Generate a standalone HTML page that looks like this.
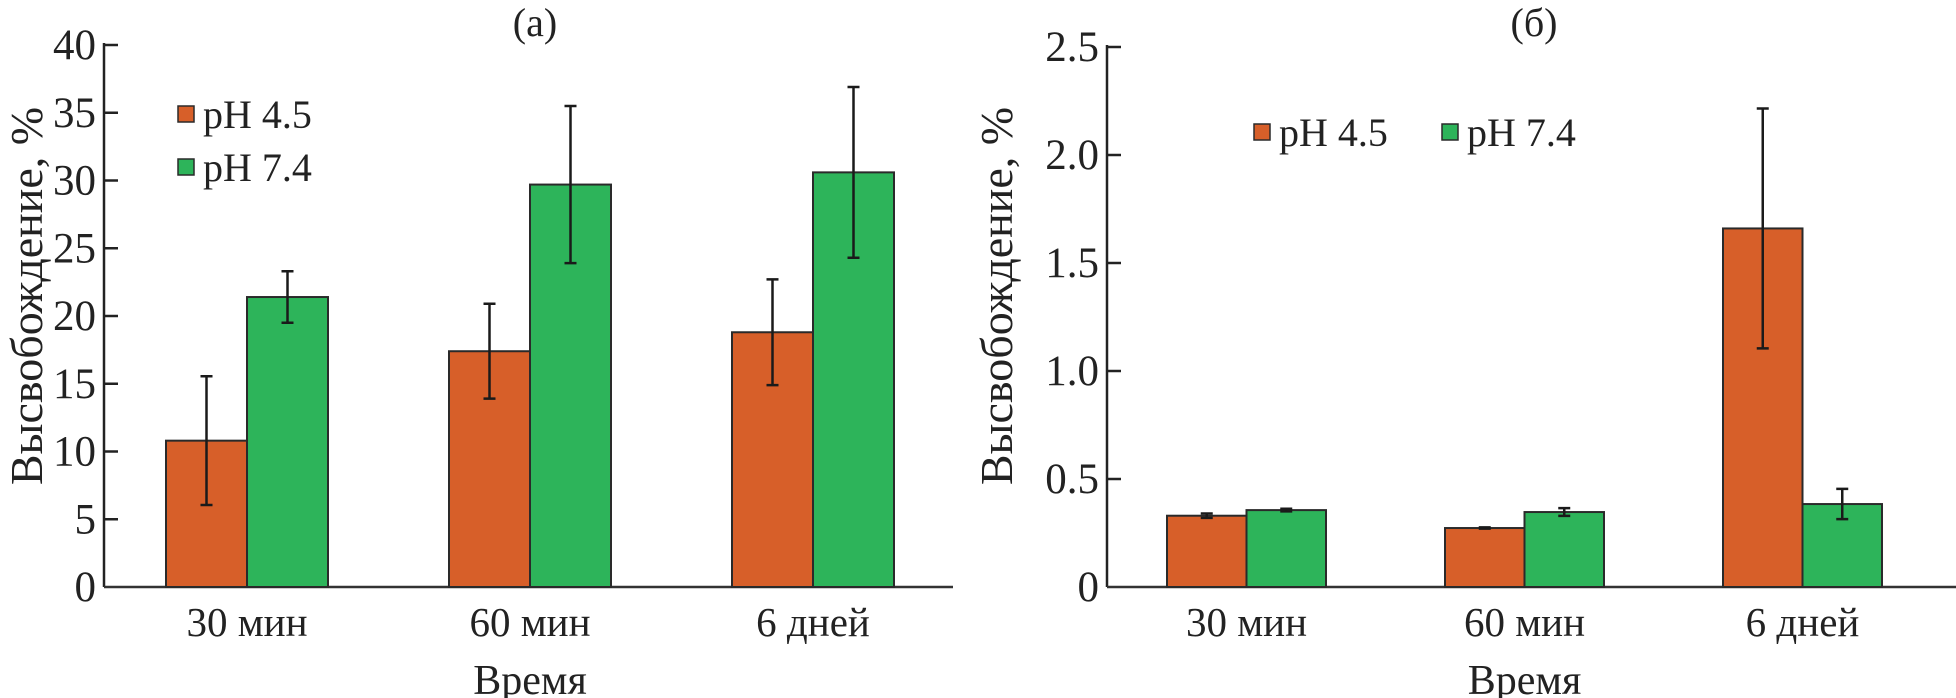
<!DOCTYPE html>
<html><head><meta charset="utf-8">
<style>
html,body{margin:0;padding:0;background:#fff;}
svg{display:block;font-family:"Liberation Serif","DejaVu Serif",serif;}
</style></head>
<body>
<svg id="chart" width="1956" height="698" viewBox="0 0 1956 698" xmlns="http://www.w3.org/2000/svg">
<g id="left"></g>
<g id="right"></g>
</svg>
<script>
const categories = ["30 мин", "60 мин", "6 дней"];
const leftPh45 = [10.8, 17.4, 18.8];
const leftPh45Err = [4.75, 3.5, 3.9];
const leftPh74 = [21.4, 29.7, 30.6];
const leftPh74Err = [1.9, 5.8, 6.3];
const leftTicks = [0, 5, 10, 15, 20, 25, 30, 35, 40];
const rightPh45 = [0.33, 0.273, 1.66];
const rightPh45Err = [0.01, 0.003, 0.555];
const rightPh74 = [0.356, 0.347, 0.384];
const rightPh74Err = [0.006, 0.018, 0.07];
const rightTicks = ["0", "0.5", "1.0", "1.5", "2.0", "2.5"];
const seriesNames = ["pH 4.5", "pH 7.4"];

const NS = "http://www.w3.org/2000/svg";
const ORANGE = "#d75f29", GREEN = "#2db45a";
function mk(parent, tag, attrs, text) {
  const e = document.createElementNS(NS, tag);
  for (const k in attrs) e.setAttribute(k, attrs[k]);
  if (text !== undefined) e.textContent = text;
  parent.appendChild(e);
  return e;
}

function panel(g, cfg) {
  const y = v => cfg.y0 - (v / cfg.ymax) * (cfg.y0 - cfg.yTop);
  const xGroup = i => cfg.firstBar + i * cfg.groupStep;
  let a = mk(g, "line", {x1: cfg.ax, y1: cfg.yTop - 2, x2: cfg.ax, y2: cfg.y0, stroke: "#222", "stroke-width": 2.5});
  
  
  a = mk(g, "line", {x1: cfg.ax, y1: cfg.y0, x2: cfg.axEnd, y2: cfg.y0, stroke: "#333", "stroke-width": 2.5});
  
  
  cfg.ticks.forEach(t => {
    const v = parseFloat(t);
    const ty = y(v);
    if (v > 0) {
      const tl = mk(g, "line", {x1: cfg.ax, y1: ty, x2: cfg.ax + 14, y2: ty, stroke: "#222", "stroke-width": 2.5});
      
      
    }
    const lb = mk(g, "text", {x: cfg.ax - 8, y: ty + 14, "text-anchor": "end", "font-size": 43, fill: "#222"}, String(t));
    
    
  });
  categories.forEach((c, i) => {
    const x0 = xGroup(i);
    [[cfg.s1, cfg.e1, ORANGE, 'bar-ph45'], [cfg.s2, cfg.e2, GREEN, 'bar-ph74']].forEach((s, k) => {
      const bx = x0 + k * cfg.bw;
      const top = y(s[0][i]);
      const r = mk(g, "rect", {x: bx, y: top, width: cfg.bw, height: cfg.y0 - top, fill: s[2], stroke: "#2a2a2a", "stroke-width": 2});
      
      
      const cx = bx + cfg.bw / 2;
      const hi = y(s[0][i] + s[1][i]), lo = y(s[0][i] - s[1][i]);
      const eb = mk(g, "path", {d: `M${cx},${hi}V${lo}M${cx-6},${hi}H${cx+6}M${cx-6},${lo}H${cx+6}`, stroke: "#1a1a1a", "stroke-width": 2.5, fill: "none"});
      
      
    });
    const xl = mk(g, "text", {x: x0 + cfg.bw, y: 636, "text-anchor": "middle", "font-size": 41, fill: "#222"}, c);
    
    
  });
  const xt = mk(g, "text", {x: xGroup(1) + cfg.bw, y: 694, "text-anchor": "middle", "font-size": 42, fill: "#222"}, "Время");
  
  
  const yt = mk(g, "text", {x: 0, y: 0, transform: `translate(${cfg.ytx},296) rotate(-90)`, "text-anchor": "middle", "font-size": 46, fill: "#222"}, "Высвобождение, %");
  
  
  const tt = mk(g, "text", {x: cfg.titleX, y: 36, "text-anchor": "middle", "font-size": 40, fill: "#222"}, cfg.title);
  
  
  cfg.legend.forEach((L, k) => {
    const sw = mk(g, "rect", {x: L[0], y: L[1], width: 16, height: 16, fill: [ORANGE, GREEN][k], stroke: "#2a2a2a", "stroke-width": 1.5});
    
    
    const lt = mk(g, "text", {x: L[0] + 25, y: L[1] + 22, "font-size": 40, fill: "#222"}, seriesNames[k]);
    
    
  });
}

panel(document.getElementById("left"), {
  ax: 104, axEnd: 953, y0: 587, yTop: 45, ymax: 40, firstBar: 166, groupStep: 283, bw: 81,
  ticks: leftTicks, s1: leftPh45, e1: leftPh45Err, s2: leftPh74, e2: leftPh74Err,
  ytx: 42, title: "(а)", titleX: 535, legend: [[178, 106], [178, 159]]
});
panel(document.getElementById("right"), {
  ax: 1107, axEnd: 1956, y0: 587, yTop: 47, ymax: 2.5, firstBar: 1167, groupStep: 278, bw: 79.5,
  ticks: rightTicks, s1: rightPh45, e1: rightPh45Err, s2: rightPh74, e2: rightPh74Err,
  ytx: 1012, title: "(б)", titleX: 1534, legend: [[1254, 124], [1442, 124]]
});
</script>
</body></html>
